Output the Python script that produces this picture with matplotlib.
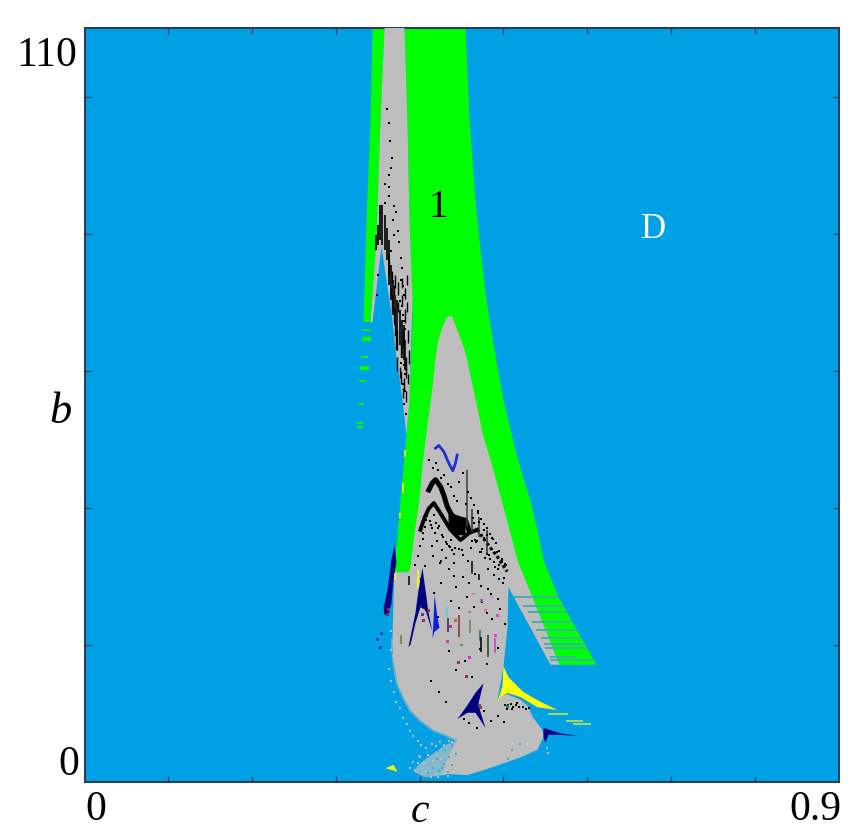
import matplotlib
matplotlib.use("Agg")
import matplotlib.pyplot as plt

plt.rcParams['font.family'] = ['Liberation Serif', 'DejaVu Serif']

BLUE, GRAY, GREEN, YEL, NAVY = '#00a0e4', '#bdbdbd', '#00ff00', '#ffff00', '#000080'
FRAME = '#2b3f5c'

# ---- region outlines, (c, b) ----
green_right_c = [.4548, .4595, .4667, .4727, .4798, .4894, .5001, .5073, .5144, .5228, .5323, .5407, .5479, .5574, .5658, .6111]
green_right_b = [110, 96.6, 84.9, 77.6, 70.3, 63.0, 55.7, 52.1, 48.4, 44.8, 41.1, 36.8, 32.4, 29.5, 27.0, 17.1]
green_inner_c = [.5670, .5264, .3867, .3700]
green_inner_b = [17.1, 29.5, 30.6, 30.6]
green_left_c = [.3712, .3772, .3843, .3879, .3915, .3879, .3855, .3820]
green_left_b = [32.4, 41.1, 50.6, 55.7, 67.4, 82.0, 96.6, 110]

strip_green_c = [.3438, .3581, .3533, .3485, .3414, .3330, .3366, .3414]
strip_green_b = [110, 110, 96.6, 79.1, 67.1, 67.1, 82.0, 96.6]

strip_gray_c = [.3581, .3820, .3855, .3879, .3915, .3879, .3843, .3796, .3712, .3676, .3545, .3438, .3414, .3485, .3533]
strip_gray_b = [110, 110, 96.6, 82.0, 70.3, 55.7, 50.6, 55.7, 63.0, 67.4, 78.1, 67.1, 67.1, 79.1, 96.6]

body_c = [.3700, .3688, .3676, .3688, .3736, .3808, .3891, .4010, .4166, .4309, .4452, .4380, .4320, .4280,
          .4571, .4882, .5204, .5407, .5479, .5467, .5347, .5300, .5204, .5049, .4965, .4930, .5001, .5049, .5061, .5562, .5670,
          .5264, .5180, .5001, .4870, .4750, .4691, .4619, .4560, .4524, .4464, .4404, .4393, .4357, .4321, .4297,
          .4249, .4213, .4178, .4154, .4118, .4082, .4034, .3999, .3939, .3891, .3867]
body_b = [30.6, 26.6, 20.7, 17.8, 14.4, 12.4, 10.5, 9.0, 7.6, 6.9, 6.1, 4.7, 3.0, 1.2,
          1.0, 2.2, 3.6, 4.7, 6.6, 7.6, 9.5, 11.0, 12.0, 12.8, 12.6, 12.0, 16.8, 22.6, 28.4, 17.1, 17.1,
          29.5, 31.9, 40.1, 46.0, 50.9, 54.6, 58.6, 62.0, 63.5, 65.5, 67.4, 67.8, 68.0, 67.7, 67.1,
          65.5, 63.8, 60.4, 57.5, 54.3, 50.9, 46.0, 41.1, 36.3, 31.4, 30.6]
edge_c = [.3676, .3688, .3736, .3808, .3891, .4010, .4166, .4309, .4452]
edge_b = [20.7, 17.8, 14.4, 12.4, 10.5, 9.0, 7.6, 6.9, 6.1]
lobe_c = [.4452, .4309, .4130, .3987, .3927, .4070, .4309, .4488]
lobe_b = [6.1, 5.4, 3.9, 2.5, 1.5, 0.7, 1.0, 2.5]
blob_c = [.4345, .4428, .4548, .4548, .4428, .4345]
blob_b = [39.7, 39.0, 38.5, 36.0, 36.0, 37.5]

yellow_c = [.5001, .5061, .5240, .5443, .5646, .5407, .5204, .5049, .4965, .4930, .4989]
yellow_b = [16.9, 15.3, 13.1, 11.7, 10.5, 10.9, 12.4, 13.0, 12.4, 11.7, 14.0]
yellow_small_c = [.3593, .3688, .3736, .3629]
yellow_small_b = [2.0, 2.5, 1.5, 1.9]

navy_a_c = [.3700, .3724, .3688, .3664, .3629, .3581, .3569, .3617, .3664]
navy_a_b = [34.6, 32.1, 29.5, 26.1, 24.4, 24.4, 25.4, 28.0, 32.4]
navy_b_c = [.4034, .4070, .4106, .4154, .4070, .4010, .3951, .3891, .3867, .3951, .3987]
navy_b_b = [31.2, 28.0, 24.7, 21.9, 25.1, 25.5, 23.2, 20.0, 19.7, 24.7, 28.0]
navy_d_c = [.4762, .4703, .4727, .4786, .4667, .4571, .4452, .4548, .4667]
navy_d_b = [14.4, 11.5, 10.2, 7.9, 10.1, 10.1, 9.2, 10.8, 13.0]
navy_e_c = [.5479, .5682, .5896, .5646, .5538, .5503, .5479]
navy_e_b = [7.9, 7.1, 6.7, 6.9, 6.9, 5.7, 6.6]
blue_c_c = [.4178, .4213, .4237, .4178, .4154, .4166]
blue_c_b = [27.3, 24.1, 22.5, 21.9, 21.0, 23.6]

# ---- lines ----
squiggle_c = [.4190, .4229, .4289, .4349, .4396, .4428, .4448]
squiggle_b = [48.7, 49.1, 48.2, 46.5, 45.4, 46.5, 47.7]
upper_c = [.4110, .4150, .4190, .4249, .4290, .4329, .4380, .4428, .4548, .4587]
upper_b = [42.6, 43.6, 44.1, 43.1, 41.8, 40.2, 39.0, 38.2, 38.2, 36.8]
lower_c = [.4010, .4060, .4110, .4170, .4249, .4369, .4488, .4587, .4687]
lower_b = [36.8, 38.6, 39.9, 40.7, 39.2, 36.8, 35.3, 36.3, 36.8]
tail_c = [.4687, .4806, .4926, .5045]
tail_b = [36.8, 34.8, 32.9, 30.7]

# vertical streaks: c, b top, b bottom, colour
streak_c = [.4341, .4476, .4607, .4719, .4735, .4818, .4898, .4329, .3871, .3780, .4627, .4707,
            .4560, .4627, .4707, .4806, .4627, .3975, .3712, .3820, .3796, .3760]
streak_top = [23.9, 24.4, 23.6, 22.2, 21.2, 21.4, 21.0, 25.6, 30.0, 21.4, 32.2, 30.4,
              45.5, 39.9, 38.7, 36.8, 31.9, 30.9, 30.5, 48.4, 43.6, 39.2]
streak_bot = [21.9, 21.2, 21.7, 20.5, 19.0, 18.3, 18.8, 23.9, 28.7, 20.2, 30.7, 29.5,
              37.2, 36.3, 35.8, 33.4, 30.4, 28.3, 29.5, 47.4, 42.2, 38.5]
streak_col = ['#402050', '#803030', '#808030', '#207080', 'black', '#204020', '#c040c0', '#50d0d0', 'black', '#807030',
              'black', 'black', '#404040', '#303030', '#303030', '#303030', '#303030', YEL, YEL, YEL, YEL, YEL]

# dense black columns of the left strip
cloud_c = [.3533, .3557, .3581, .3605, .3629, .3640, .3664, .3688, .3712, .3736, .3760, .3784, .3808, .3820, .3509, .3485]
cloud_top = [84.2, 84.2, 82.7, 80.8, 79.1, 76.9, 75.4, 73.2, 71.0, 70.3, 68.9, 67.4, 66.7, 64.5, 81.3, 79.8]
cloud_bot = [79.1, 78.3, 77.6, 76.2, 74.0, 72.5, 70.3, 68.1, 66.7, 64.5, 63.8, 62.3, 61.6, 60.1, 78.3, 77.6]
# looser short columns beside them
cloud2_c = [.3664, .3676, .3700, .3712, .3736, .3748, .3772, .3784, .3796, .3820, .3832, .3855, .3867, .3879, .3700, .3736,
            .3772, .3808, .3843, .3867, .3724, .3760, .3796, .3832, .3640, .3676, .3712, .3748, .3784, .3820, .3855]
cloud2_top = [72, 71, 69, 67, 66, 70, 64, 71, 66, 69, 62, 70, 66, 63, 72.5, 62,
              60, 59, 60.5, 59.5, 65, 60.5, 57.5, 57, 76, 74.5, 74, 73, 73.5, 72, 74]
cloud2_bot = [70.5, 68.5, 67, 65, 63, 68.5, 62, 69.5, 63.5, 67, 60, 68.5, 64, 61, 71, 60,
              58, 57, 59, 58, 63, 59, 56, 55.5, 74.5, 73, 72, 71, 72, 70.5, 72.5]

# green fragments left of the strip: b, c start, c end, line width
frag_b = [65.9, 64.6, 62.0, 60.4, 58.5, 55.1, 52.4, 51.8]
frag_c0 = [.3318, .3318, .3306, .3294, .3282, .3270, .3258, .3258]
frag_c1 = [.3414, .3414, .3378, .3390, .3366, .3342, .3330, .3330]
frag_w = [1.2, 3.2, 1.2, 3.0, 1.2, 1.2, 1.5, 1.5]

# thin bluish rows through the right-hand tail
row_b = [27.0, 25.7, 24.8, 23.3, 22.2, 21.0, 20.1, 19.5, 18.2, 17.8]
row_c0 = [.5132, .5240, .5288, .5347, .5395, .5443, .5479, .5491, .5562, .5562]
row_c1 = [.5658, .5717, .5756, .5825, .5879, .5932, .5968, .6003, .5884, .6075]

# dashes right of the yellow wedge
dash_b = [9.9, 8.9, 8.5]
dash_c0 = [.5538, .5753, .5825]
dash_c1 = [.5777, .5956, .6040]

# stippling
dots_c = [.3605, .3629, .3652, .3676, .3664, .3640, .3581, .3629, .3640, .3700, .3724, .3688, .3745, .3757, .3772, .3784,
          .3772, .3796, .3808, .3760, .3784, .3796, .3808, .3820, .3784, .3808, .3820, .3772, .3796, .3820, .3808, .3832,
          .3581, .3533, .3509, .3497, .3664, .3700,
          .4118, .4154, .4190, .4225, .4261, .4297, .4333, .4369, .4405, .4441, .4476, .4512, .4548, .4583, .4619, .4655,
          .4691, .4727, .4763, .4799, .4835, .4871, .4907, .4943, .4979, .5015, .4082, .4046, .4010, .3975, .3939,
          .4130, .4178, .4225, .4285, .4357, .4416, .4476, .4512, .4572, .4619, .4667, .4715, .4775, .4822, .4882, .4942,
          .4990, .4066, .4022, .4153, .4261, .4345, .4405, .4512, .4595, .4667, .4727, .4811, .4858, .4930,
          .4010, .4082, .4166, .4225, .4369, .4476, .4560, .4655, .4739, .4799, .4870, .4954, .5025, .4261, .4440,
          .4345, .4440, .4537, .4620, .4715, .4810, .4930, .4140, .4235, .4310,
          .4525, .4585, .4680, .4770, .4850, .4940, .5010,
          .5025, .5061, .5096, .5120, .5156, .5192, .5240, .5275, .5300, .5049, .5108, .5168,
          .4040, .4065, .4090, .4120, .4145, .4170, .4200, .4235, .4270, .4310, .4350, .4390,
          .4620, .4650, .4680, .4710, .4740, .4770, .4800, .4830, .4860, .4890, .4920, .4950, .4980, .5010, .5030,
          .4640, .4670, .4700, .4735, .4770, .4805, .4840, .4870, .4900, .4935,
          .4160, .4210, .4270, .4320, .4370, .4420, .4470, .4510, .4240, .4330, .4410]
dots_b = [98.2, 96.1, 93.5, 91.0, 89.6, 88.5, 87.3, 86.8, 85.5, 84.0, 83.1, 82.0, 80.4, 78.8, 76.5, 75.0,
          73.2, 72.3, 71.0, 70.1, 69.5, 68.2, 67.3, 66.1, 62.0, 60.8, 59.5, 61.1, 58.1, 57.0, 55.2, 53.7,
          84.5, 83.0, 74.0, 71.0, 77.5, 79.8,
          47.0, 45.8, 46.5, 45.5, 44.4, 44.8, 43.5, 43.0, 41.7, 41.0, 43.7, 45.1, 40.5, 42.3, 41.5, 40.4,
          39.6, 38.4, 37.7, 37.1, 36.2, 35.4, 34.8, 33.7, 32.6, 31.8, 38.2, 36.3, 34.5, 33.0, 31.7,
          37.5, 36.3, 37.0, 35.7, 34.3, 33.2, 34.0, 33.1, 32.3, 34.1, 35.3, 33.5, 32.7, 31.1, 30.2, 29.6,
          29.0, 31.5, 29.6, 34.5, 32.2, 31.1, 30.0, 29.9, 29.0, 30.4, 28.6, 28.1, 27.4, 26.7,
          27.0, 25.1, 27.6, 24.0, 26.4, 25.4, 27.0, 25.6, 26.2, 24.6, 23.8, 25.3, 23.0, 29.0, 28.4,
          19.1, 16.4, 17.6, 15.3, 19.4, 17.2, 19.6, 14.8, 13.2, 11.7,
          9.2, 8.6, 7.9, 10.4, 8.9, 9.7, 8.8,
          11.3, 11.2, 11.4, 11.0, 11.2, 10.9, 11.0, 10.6, 10.8, 10.7, 10.6, 11.5,
          35.4, 37.2, 38.8, 38.1, 37.0, 38.9, 37.8, 37.4, 36.0, 35.0, 34.5, 33.9,
          35.2, 37.8, 35.1, 37.9, 34.0, 35.6, 36.0, 33.1, 34.0, 32.1, 33.6, 31.7, 32.3, 29.8, 31.6,
          38.5, 35.0, 39.3, 33.5, 36.8, 33.2, 32.5, 35.6, 31.3, 31.1,
          33.0, 35.2, 33.9, 32.7, 35.3, 34.2, 36.4, 33.9, 31.9, 34.7, 31.9]

# mottled gray edge of the lower part
speck_c = [.3654, .3640, .3664, .3700, .3724, .3760, .3796, .3844, .3880, .3927, .3975, .4022, .4082, .4142, .4190, .4249,
           .4297, .4345, .4392, .4440, .4488, .4010, .4058, .4106, .4154, .4202, .4261, .4309, .3950, .3975, .4034,
           .4082, .4130, .4178, .4225, .4285, .4333, .3891, .3927, .3987, .5514, .5526, .5538, .3660, .3680]
speck_b = [19.2, 16.5, 14.8, 13.2, 11.7, 10.8, 9.4, 8.4, 7.4, 6.7, 6.0, 5.4, 5.0, 5.6, 5.2, 5.9,
           5.4, 6.0, 5.8, 6.6, 7.0, 3.6, 2.7, 3.9, 3.1, 3.9, 3.3, 2.5, 1.8, 2.7, 1.1,
           1.5, 0.8, 1.2, 0.8, 1.1, 0.9, 2.0, 2.9, 3.8, 6.1, 5.0, 4.2, 22.0, 18.4]
hole_c = [.4261, .4309, .4202, .4345, .4154, .4237, .4297, .4392, .4440, .4106, .4214, .4273, .4333, .5108, .5061, .5204, .4392]
hole_b = [6.0, 4.7, 3.3, 3.6, 2.0, 1.6, 2.6, 5.2, 4.1, 1.3, 4.5, 2.0, 1.4, 4.6, 3.4, 5.6, 2.5]
color_dot_c = [.4333, .4369, .4428, .4500, .4595, .4643, .4740, .4786, .4858, .4906, .4930, .4465, .4560, .4715, .3500, .3548, .3536, .4595, .5047, .4106,
               .4727, .4034, .4046, .3629, .3617]
color_dot_b = [20.5, 22.7, 23.6, 20.0, 24.8, 27.4, 26.5, 25.0, 27.0, 21.4, 24.3, 17.4, 15.4, 11.2, 20.8, 21.7, 19.6, 18.2, 11.0, 25.0,
               10.9, 24.4, 23.6, 25.2, 24.4]
color_dot_col = ['#d040a0', '#a04090', '#c06040', '#50a060', '#d060c0', '#e070d0', '#c050c0', '#d070c0', '#e080d0',
                 '#e040d0', '#e040d0', '#a03030', '#a03030', '#2060a0', '#1040e0', '#1040e0', '#1040e0', '#c040c0', '#208080', '#902070',
                 '#d02020', '#803080', '#803080', '#803060', '#803060']
tick_c = [0.1 * i for i in range(1, 9)]
tick_b = [20, 40, 60, 80, 100]

fig = plt.figure(figsize=(8.48, 8.30), dpi=100)
ax = fig.add_axes([84.5 / 848, 1 - 782 / 830, 754 / 848, 754 / 830])
ax.set_xlim(0, 0.9)
ax.set_ylim(0, 110)
ax.set_facecolor(BLUE)


def poly(c, b, col, z):
    ax.fill(c, b, color=col, lw=0, zorder=z)


poly(strip_green_c, strip_green_b, GREEN, 2)
poly(green_right_c + green_inner_c + green_left_c, green_right_b + green_inner_b + green_left_b, GREEN, 2)
poly(strip_gray_c, strip_gray_b, GRAY, 3)
poly(lobe_c, lobe_b, '#84b8cc', 2.5)
poly(body_c, body_b, GRAY, 3)
ax.plot(edge_c, edge_b, color=GRAY, alpha=0.5, lw=2.5, zorder=2.8)
ax.plot(speck_c, speck_b, 's', color=GRAY, ms=1.5, mew=0, zorder=3)
ax.plot(hole_c, hole_b, 's', color='#3fa9c9', ms=1.5, mew=0, zorder=4)

ax.hlines(frag_b, frag_c0, frag_c1, colors=GREEN, linewidths=frag_w, zorder=3)
ax.hlines(row_b, row_c0, row_c1, colors='#35b0a8', linewidths=1.3, zorder=4)
ax.hlines(dash_b, dash_c0, dash_c1, colors='#b0e060', linewidths=1.3, zorder=4)

poly(yellow_c, yellow_b, YEL, 5)
poly(yellow_small_c, yellow_small_b, YEL, 5)
for c, b in [(navy_a_c, navy_a_b), (navy_b_c, navy_b_b), (navy_d_c, navy_d_b), (navy_e_c, navy_e_b)]:
    poly(c, b, NAVY, 5)
poly(blue_c_c, blue_c_b, '#1020d8', 5)
poly(blob_c, blob_b, 'black', 6)

ax.plot(squiggle_c, squiggle_b, color='#2030d0', lw=2.0, zorder=6)
ax.plot(upper_c, upper_b, color='black', lw=3.6, zorder=6, solid_joinstyle='round')
ax.plot(lower_c, lower_b, color='black', lw=2.8, zorder=6, solid_joinstyle='round')
ax.plot(tail_c, tail_b, color='black', lw=2.2, ls=(0, (1, 0.8)), zorder=6)
ax.vlines(streak_c, streak_bot, streak_top, colors=streak_col, linewidths=1.1, zorder=6)
ax.vlines(cloud_c, cloud_bot, cloud_top, colors='black', linewidths=1.2, zorder=6)
ax.vlines(cloud2_c, cloud2_bot, cloud2_top, colors='black', linewidths=1.0, zorder=6)
ax.plot(dots_c, dots_b, 's', color='black', ms=1.6, mew=0, zorder=6)
ax.scatter(color_dot_c, color_dot_b, c=color_dot_col, s=3.5, marker='s', linewidths=0, zorder=6)

ax.set_xticks(tick_c)
ax.set_yticks(tick_b)
ax.tick_params(direction='in', length=4.3, width=0.9, color=FRAME, top=True, right=True,
               labelbottom=False, labelleft=False)
for s in ax.spines.values():
    s.set_linewidth(1.5)
    s.set_color(FRAME)

ax.text(.0131, -4.1, '0', fontsize=30, ha='center', va='center')
ax.text(.8725, -4.1, '0.9', fontsize=30, ha='center', va='center')
ax.text(.401, -5.8, 'c', fontsize=30, style='italic', ha='center', va='baseline')
ax.text(-.0286, 54, 'b', fontsize=32, style='italic', ha='center', va='center')
ax.text(-.0454, 106, '110', fontsize=30, ha='center', va='center')
ax.text(-.0191, 2.5, '0', fontsize=30, ha='center', va='center')
ax.text(.4225, 83.8, '1', fontsize=28, color='black', ha='center', va='center', zorder=7)
ax.text(.6792, 80.6, 'D', fontsize=25, color='white', ha='center', va='center', zorder=7)

fig.savefig('out.png', dpi=100)
